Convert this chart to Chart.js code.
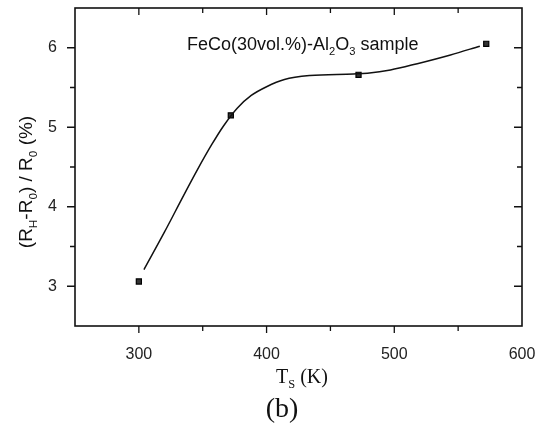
<!DOCTYPE html>
<html>
<head>
<meta charset="utf-8">
<script src="https://cdn.jsdelivr.net/npm/chart.js@4.4.1/dist/chart.umd.min.js"></script>
<style>
  html, body { margin: 0; padding: 0; background: #fff; }
  #wrap { width: 540px; height: 429px; }
</style>
</head>
<body>
<div id="wrap"><canvas id="myChart" width="540" height="429"></canvas></div>
<script>
'use strict';

// measured points
var tempK = [300, 372, 472, 572];
var ratioPct = [3.06, 5.15, 5.66, 6.05];

// fitted curve
var fitT = [304, 320, 335, 346, 357, 366, 377, 388, 400, 414, 434, 468, 479, 497, 518, 544, 567];
var fitR = [3.21, 3.68, 4.14, 4.47, 4.78, 5.01, 5.24, 5.40, 5.51, 5.60, 5.65, 5.67, 5.68, 5.72, 5.80, 5.91, 6.02];

var xTicks = [300, 400, 500, 600];
var yTicks = [3, 4, 5, 6];

var sans = "'Liberation Sans', Arial, sans-serif";
var serif = "'Liberation Serif', 'Times New Roman', serif";

function richText(ctx, parts, x, y, size, family, align) {
	var w = 0, i;
	for (i = 0; i < parts.length; i++) {
		var s = parts[i].sub ? size * 0.62 : size;
		ctx.font = s + 'px ' + family;
		parts[i].w = ctx.measureText(parts[i].t).width;
		w += parts[i].w;
	}
	var cx = align === 'center' ? x - w / 2 : x;
	ctx.textAlign = 'left';
	ctx.textBaseline = 'alphabetic';
	for (i = 0; i < parts.length; i++) {
		var sz = parts[i].sub ? size * 0.62 : size;
		ctx.font = sz + 'px ' + family;
		ctx.fillText(parts[i].t, cx, parts[i].sub ? y + size * 0.25 : y);
		cx += parts[i].w;
	}
}

var framePlugin = {
	id: 'frame',
	afterDraw: function (chart) {
		var ctx = chart.ctx;
		var a = chart.chartArea;
		var xs = chart.scales.x, ys = chart.scales.y;
		ctx.save();
		ctx.strokeStyle = '#111';
		ctx.lineWidth = 1.6;
		ctx.strokeRect(a.left, a.top, a.right - a.left, a.bottom - a.top);
		ctx.lineWidth = 1.3;
		ctx.beginPath();
		xs.ticks.forEach(function (t) {
			var px = xs.getPixelForValue(t.value);
			var len = t.value % 100 === 0 ? 7 : 5;
			if (px <= a.left + 1 || px >= a.right - 1) return;
			ctx.moveTo(px, a.bottom); ctx.lineTo(px, a.bottom + len);
			ctx.moveTo(px, a.top); ctx.lineTo(px, a.top + len);
		});
		ys.ticks.forEach(function (t) {
			var py = ys.getPixelForValue(t.value);
			var len = Number.isInteger(t.value) ? 8 : 5;
			if (py <= a.top + 1 || py >= a.bottom - 1) return;
			ctx.moveTo(a.left, py); ctx.lineTo(a.left - len, py);
			ctx.moveTo(a.right, py); ctx.lineTo(a.right - len, py);
		});
		ctx.stroke();

		ctx.fillStyle = '#111';
		// annotation
		richText(ctx, [{t: 'FeCo(30vol.%)-Al'}, {t: '2', sub: true}, {t: 'O'}, {t: '3', sub: true}, {t: ' sample'}],
			187, 50, 18, sans, 'left');
		// x title
		richText(ctx, [{t: 'T'}, {t: 'S', sub: true}, {t: ' (K)'}], 302, 383, 20, serif, 'center');
		ctx.font = '28px ' + serif;
		ctx.textAlign = 'center';
		ctx.fillText('(b)', 282, 417);
		// y title
		ctx.translate(32, 182);
		ctx.rotate(-Math.PI / 2);
		richText(ctx, [{t: '(R'}, {t: 'H', sub: true}, {t: '-R'}, {t: '0', sub: true}, {t: ') / R'}, {t: '0', sub: true}, {t: ' (%)'}],
			0, 0, 19, sans, 'center');
		ctx.restore();
	}
};

var ctx = document.getElementById('myChart').getContext('2d');
var myChart = new Chart(ctx, {
	type: 'scatter',
	data: {
		datasets: [{
			label: 'fit',
			data: fitT.map(function (t, i) { return {x: t, y: fitR[i]}; }),
			showLine: true,
			borderColor: '#111',
			borderWidth: 1.5,
			pointRadius: 0,
			cubicInterpolationMode: 'monotone',
			fill: false
		}, {
			label: 'data',
			data: tempK.map(function (t, i) { return {x: t, y: ratioPct[i]}; }),
			pointStyle: 'rect',
			pointRadius: 3.6,
			backgroundColor: '#333',
			borderColor: '#000',
			borderWidth: 1.2
		}]
	},
	options: {
		responsive: false,
		animation: false,
		events: [],
		layout: {padding: {top: 8, right: 18, left: 0, bottom: 0}},
		plugins: {legend: {display: false}, tooltip: {enabled: false}},
		scales: {
			x: {
				type: 'linear', min: 250, max: 600,
				grid: {display: false}, border: {display: false},
				ticks: {
					stepSize: 50, padding: 11, color: '#222', maxRotation: 0,
					font: {family: sans, size: 16},
					callback: function (v) { return xTicks.indexOf(v) >= 0 ? String(v) : ''; }
				},
				afterFit: function (s) { s.height = 103; s.paddingLeft = 0; s.paddingRight = 0; }
			},
			y: {
				type: 'linear', min: 2.5, max: 6.5,
				grid: {display: false}, border: {display: false},
				ticks: {
					stepSize: 0.5, padding: 10, color: '#222',
					font: {family: sans, size: 16},
					callback: function (v) { return yTicks.indexOf(v) >= 0 ? String(v) : ''; }
				},
				afterFit: function (s) { s.width = 75; s.paddingTop = 0; s.paddingBottom = 0; }
			}
		}
	},
	plugins: [framePlugin]
});
</script>
</body>
</html>
